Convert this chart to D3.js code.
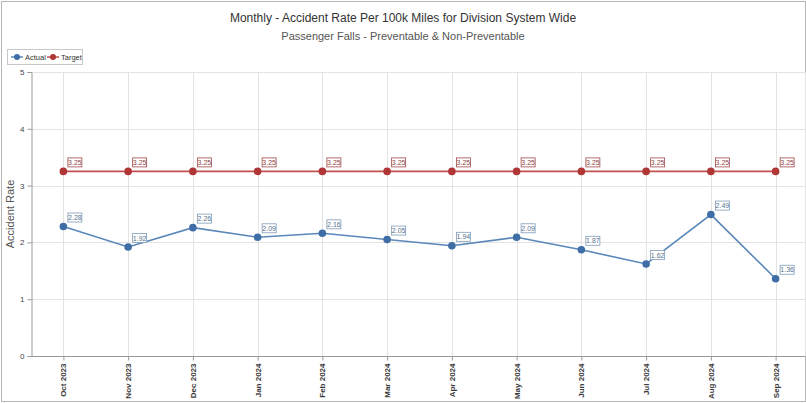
<!DOCTYPE html>
<html>
<head>
<meta charset="utf-8">
<script src="https://cdn.jsdelivr.net/npm/d3@7"></script>
<style>
  body { margin: 0; background: #fff; }
  svg { display: block; font-family: "Liberation Sans", Arial, sans-serif; }
</style>
</head>
<body>
<div id="chart"></div>
<script>
// data
var months = ['Oct 2023', 'Nov 2023', 'Dec 2023', 'Jan 2024', 'Feb 2024', 'Mar 2024',
              'Apr 2024', 'May 2024', 'Jun 2024', 'Jul 2024', 'Aug 2024', 'Sep 2024'];
var actual = [2.28, 1.92, 2.26, 2.09, 2.16, 2.05, 1.94, 2.09, 1.87, 1.62, 2.49, 1.36];
var target = [3.25, 3.25, 3.25, 3.25, 3.25, 3.25, 3.25, 3.25, 3.25, 3.25, 3.25, 3.25];
var yTicks = [0, 1, 2, 3, 4, 5];

var W = 806, H = 403;
var plotLeft = 31, plotRight = 805, plotTop = 72, plotBottom = 356;

var svg = d3.select('#chart').append('svg')
    .attr('width', W)
    .attr('height', H);

// outer frame
svg.append('rect')
    .attr('x', 1.5).attr('y', 1.5)
    .attr('width', W - 2).attr('height', H - 3)
    .attr('fill', 'none').attr('stroke', '#b5b5b5');

var x = d3.scalePoint().domain(months).range([plotLeft, 808]).padding(0.5);
var y = d3.scaleLinear().domain([0, 5]).range([plotBottom, plotTop]);

// titles
svg.append('text')
    .attr('x', W / 2).attr('y', 22)
    .attr('text-anchor', 'middle')
    .attr('font-size', '12px').attr('fill', '#333')
    .text('Monthly - Accident Rate Per 100k Miles for Division System Wide');
svg.append('text')
    .attr('x', W / 2).attr('y', 40)
    .attr('text-anchor', 'middle')
    .attr('font-size', '11px').attr('fill', '#555')
    .text('Passenger Falls - Preventable & Non-Preventable');

// grid
var grid = svg.append('g');
grid.selectAll('.hg').data(yTicks).enter().append('line')
    .attr('x1', plotLeft).attr('x2', plotRight)
    .attr('y1', function (d) { return Math.round(y(d)) + 0.5; })
    .attr('y2', function (d) { return Math.round(y(d)) + 0.5; })
    .attr('stroke', '#e3e3e3');
grid.selectAll('.vg').data(months).enter().append('line')
    .attr('x1', function (d) { return Math.round(x(d)) + 0.5; })
    .attr('x2', function (d) { return Math.round(x(d)) + 0.5; })
    .attr('y1', plotTop).attr('y2', plotBottom)
    .attr('stroke', '#e3e3e3');
grid.append('line')
    .attr('x1', plotRight + 0.5).attr('x2', plotRight + 0.5)
    .attr('y1', plotTop).attr('y2', plotBottom)
    .attr('stroke', '#e3e3e3');

// y axis
var yAxis = svg.append('g')
    .attr('transform', 'translate(' + (plotLeft + 0.5) + ',0)')
    .call(d3.axisLeft(y).tickValues(yTicks).tickSize(4).tickPadding(3).tickFormat(d3.format('d')));
yAxis.select('.domain').attr('stroke', '#999');
yAxis.selectAll('.tick line').attr('stroke', '#999');
yAxis.selectAll('text').attr('font-size', '8px').attr('fill', '#444')
    .attr('font-family', '"Liberation Sans", Arial, sans-serif');

svg.append('text')
    .attr('transform', 'translate(14,' + ((plotTop + plotBottom) / 2) + ') rotate(-90)')
    .attr('text-anchor', 'middle')
    .attr('font-size', '11px').attr('fill', '#555')
    .text('Accident Rate');

// x axis
var xAxis = svg.append('g')
    .attr('transform', 'translate(0,' + (plotBottom + 0.5) + ')')
    .call(d3.axisBottom(x).tickSize(4).tickSizeOuter(0));
xAxis.select('.domain').attr('stroke', '#999').attr('d', 'M' + plotLeft + ',0H' + plotRight);
xAxis.selectAll('.tick line').attr('stroke', '#999');
xAxis.selectAll('text')
    .attr('font-size', '8px').attr('font-weight', 'bold').attr('fill', '#3a3a3a')
    .attr('font-family', '"Liberation Sans", Arial, sans-serif')
    .attr('text-anchor', 'end')
    .attr('transform', 'rotate(-90)')
    .attr('x', -7).attr('y', 0).attr('dy', '0.32em');

// series
var series = [
    { name: 'Actual', values: actual, line: '#5a87b9', dot: '#3f6ea6', box: '#7f9bb8', txt: '#56728f' },
    { name: 'Target', values: target, line: '#c4504e', dot: '#b03636', box: '#a04848', txt: '#8e4545' }
];

var line = d3.line()
    .x(function (d, i) { return x(months[i]); })
    .y(function (d) { return y(d); });

series.forEach(function (s) {
    var g = svg.append('g');
    g.append('path')
        .attr('d', line(s.values))
        .attr('fill', 'none')
        .attr('stroke', s.line)
        .attr('stroke-width', 1.6);
    g.selectAll('circle').data(s.values).enter().append('circle')
        .attr('cx', function (d, i) { return x(months[i]); })
        .attr('cy', function (d) { return y(d); })
        .attr('r', 3.8)
        .attr('fill', s.dot);
    var lab = g.selectAll('.lab').data(s.values).enter().append('g')
        .attr('transform', function (d, i) {
            return 'translate(' + (x(months[i]) + 4) + ',' + (y(d) - 14) + ')';
        });
    lab.append('rect')
        .attr('x', 0.5).attr('y', 0.5)
        .attr('width', 14).attr('height', 9)
        .attr('fill', '#fff').attr('stroke', s.box).attr('stroke-width', 0.8);
    lab.append('text')
        .attr('x', 7.5).attr('y', 7.6)
        .attr('text-anchor', 'middle')
        .attr('font-size', '7px').attr('fill', s.txt)
        .text(function (d) { return d.toFixed(2); });
});

// legend
var legend = svg.append('g').attr('transform', 'translate(7,49)');
legend.append('rect')
    .attr('x', 0.5).attr('y', 0.5).attr('width', 75).attr('height', 15)
    .attr('fill', '#fff').attr('stroke', '#c8c8c8');
var lx = [4, 40];
series.forEach(function (s, i) {
    var item = legend.append('g').attr('transform', 'translate(' + lx[i] + ',8)');
    item.append('line').attr('x1', 0).attr('x2', 12).attr('y1', 0).attr('y2', 0)
        .attr('stroke', s.line).attr('stroke-width', 1.5);
    item.append('circle').attr('cx', 6).attr('cy', 0).attr('r', 3).attr('fill', s.dot);
    item.append('text').attr('x', 14).attr('y', 3)
        .attr('font-size', '7.5px').attr('fill', '#333')
        .text(s.name);
});
</script>
</body>
</html>
